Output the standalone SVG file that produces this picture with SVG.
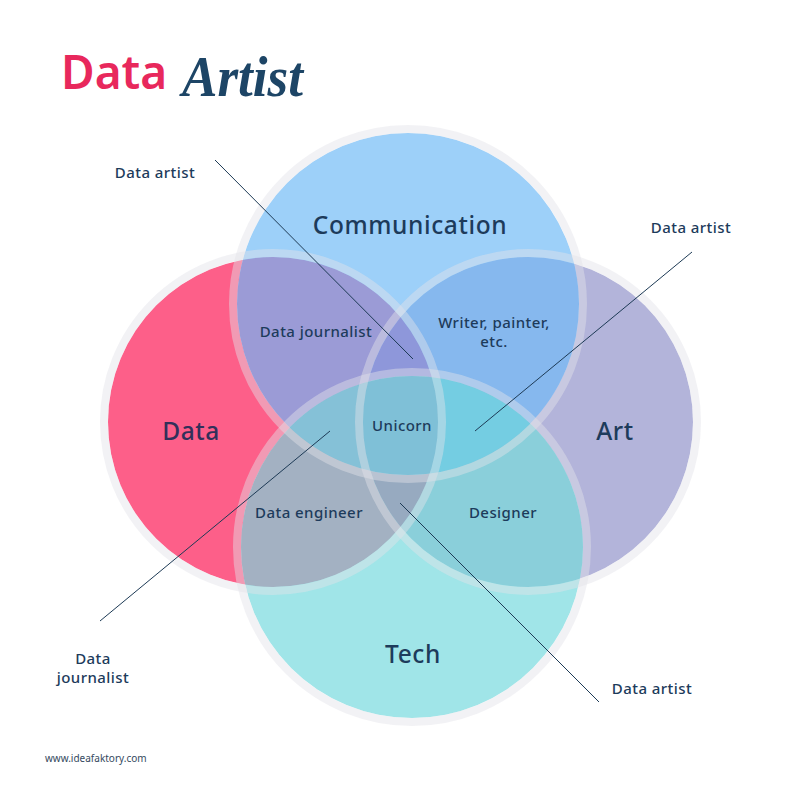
<svg xmlns="http://www.w3.org/2000/svg" width="800" height="800" viewBox="0 0 800 800">
  <style>
    .lbl { font-family: "Noto Sans", "DejaVu Sans", sans-serif; font-weight: 500; fill: #1d3b5b; text-anchor: middle; }
    .big { font-size: 24.5px; letter-spacing: 0.6px; }
    .sm { font-size: 15px; letter-spacing: 0.45px; }
    .conn line { stroke: #1d3a55; stroke-width: 1; }
    .ring { fill: none; stroke: rgb(226,226,232); stroke-opacity: 0.45; stroke-width: 8; }
  </style>
  <defs>
    <clipPath id="cD"><circle cx="273" cy="422" r="165"/></clipPath>
    <clipPath id="cA"><circle cx="528" cy="422" r="165"/></clipPath>
    <clipPath id="cC"><circle cx="408" cy="304" r="171"/></clipPath>
    <clipPath id="cT"><circle cx="412" cy="547" r="171"/></clipPath>
  </defs>
  <rect width="800" height="800" fill="#ffffff"/>

  <!-- title -->
  <g id="title">
    <text x="61" y="89" font-family="'Noto Sans', sans-serif" font-weight="600" font-size="46" fill="#e8285c">Data</text>
    <text x="182" y="96" font-family="'Liberation Serif', serif" font-style="italic" font-weight="bold" font-size="58" fill="#1d4566" textLength="121" lengthAdjust="spacingAndGlyphs">Artist</text>
  </g>

  <!-- base circles -->
  <g id="circles">
    <circle id="fD" cx="273" cy="422" r="165" fill="#fd5f89"/>
    <circle id="fA" cx="528" cy="422" r="165" fill="#b3b4da"/>
    <circle id="fC" cx="408" cy="304" r="171" fill="#9dd0f9"/>
    <circle id="fT" cx="412" cy="547" r="171" fill="#a0e5e8"/>
    <!-- pairwise -->
    <g clip-path="url(#cD)"><circle cx="408" cy="304" r="171" fill="#9b9bd6"/></g>
    <g clip-path="url(#cA)"><circle cx="408" cy="304" r="171" fill="#86b8ee"/></g>
    <g clip-path="url(#cD)"><circle cx="412" cy="547" r="171" fill="#a3b1c2"/></g>
    <g clip-path="url(#cA)"><circle cx="412" cy="547" r="171" fill="#8acfda"/></g>
    <g clip-path="url(#cC)"><circle cx="412" cy="547" r="171" fill="#80c4db"/></g>
    <!-- triples -->
    <g clip-path="url(#cD)"><g clip-path="url(#cC)"><circle cx="528" cy="422" r="165" fill="#8e97da"/></g></g>
    <g clip-path="url(#cD)"><g clip-path="url(#cT)"><circle cx="528" cy="422" r="165" fill="#97aac0"/></g></g>
    <g clip-path="url(#cA)"><g clip-path="url(#cC)"><circle cx="412" cy="547" r="171" fill="#74cde2"/></g></g>
    <g clip-path="url(#cD)"><g clip-path="url(#cC)"><circle cx="412" cy="547" r="171" fill="#85c1d7"/></g></g>
    <!-- all four -->
    <g clip-path="url(#cD)"><g clip-path="url(#cC)"><g clip-path="url(#cA)"><circle cx="412" cy="547" r="171" fill="#7fc0d7"/></g></g></g>
    <!-- rings -->
    <circle class="ring" cx="273" cy="422" r="169"/>
    <circle class="ring" cx="528" cy="422" r="169"/>
    <circle class="ring" cx="408" cy="304" r="175"/>
    <circle class="ring" cx="412" cy="547" r="175"/>
  </g>

  <!-- connectors -->
  <g id="connectors" class="conn">
    <line x1="215" y1="160" x2="413" y2="359"/>
    <line x1="692" y1="252" x2="475" y2="431"/>
    <line x1="330" y1="431" x2="100" y2="621"/>
    <line x1="400" y1="503" x2="599" y2="702"/>
  </g>

  <!-- set labels -->
  <g id="node-communication"><text class="lbl big" x="410" y="234">Communication</text></g>
  <g id="node-data"><text class="lbl big" x="191" y="440" style="fill:#33305a">Data</text></g>
  <g id="node-art"><text class="lbl big" x="615" y="440">Art</text></g>
  <g id="node-tech"><text class="lbl big" x="413" y="663">Tech</text></g>

  <!-- intersection labels -->
  <g id="node-data-journalist-in"><text class="lbl sm" x="316" y="337">Data journalist</text></g>
  <g id="node-writer"><text class="lbl sm" x="494" y="328">Writer, painter,</text><text class="lbl sm" x="494" y="347">etc.</text></g>
  <g id="node-unicorn"><text class="lbl sm" x="402" y="431">Unicorn</text></g>
  <g id="node-data-engineer"><text class="lbl sm" x="309" y="518">Data engineer</text></g>
  <g id="node-designer"><text class="lbl sm" x="503" y="518">Designer</text></g>

  <!-- outer labels -->
  <g id="node-da1"><text class="lbl sm" x="155" y="178">Data artist</text></g>
  <g id="node-da2"><text class="lbl sm" x="691" y="233">Data artist</text></g>
  <g id="node-da3"><text class="lbl sm" x="652" y="694">Data artist</text></g>
  <g id="node-dj-out"><text class="lbl sm" x="93" y="664">Data</text><text class="lbl sm" x="93" y="683">journalist</text></g>

  <g id="footer"><text x="45" y="762" font-family="'Noto Sans', sans-serif" font-size="10" fill="#34495e">www.ideafaktory.com</text></g>
</svg>
